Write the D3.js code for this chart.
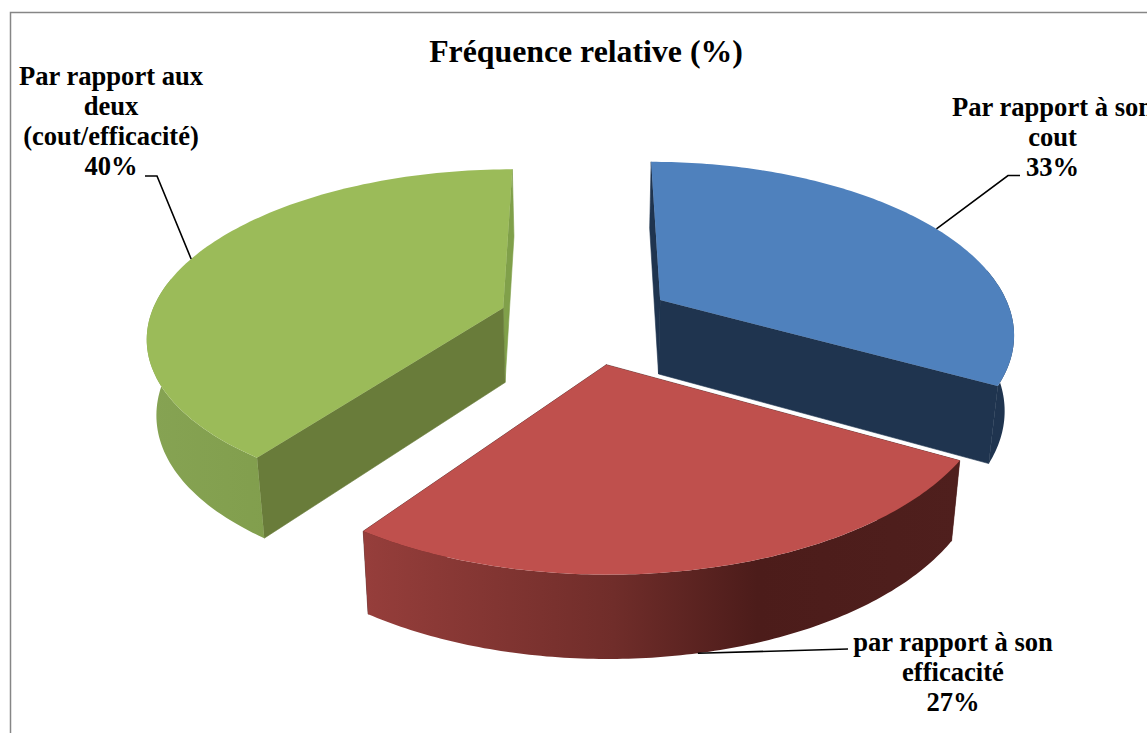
<!DOCTYPE html>
<html lang="fr">
<head>
<meta charset="utf-8">
<title>Fréquence relative (%)</title>
<script src="https://cdn.jsdelivr.net/npm/d3@7/dist/d3.min.js"></script>
<style>
  html, body { margin: 0; padding: 0; background: #fff; overflow: hidden; }
  svg { display: block; }
  text { font-family: "Liberation Serif", "Times New Roman", serif; font-weight: 700; fill: #000; }
</style>
</head>
<body>
<svg id="chart" width="1147" height="733"></svg>
<script>
// Slices, in clockwise order from the top of the pie
const categories = ["Par rapport à son cout", "par rapport à son efficacité", "Par rapport aux deux (cout/efficacité)"];
const values = [33, 27, 40];
const labelLines = [["Par rapport à son", "cout"], ["par rapport à son", "efficacité"], ["Par rapport aux", "deux", "(cout/efficacité)"]];

const topColors = ["#4f81bd", "#bf504d", "#9bbb59"];
const startCutColors = ["#1f344f", "#4f1f1d", "#697c3a"];
const endCutColors = ["#1f344f", "#4f1f1d", "#80a04a"];
const wallStops = [
  [["0", "#1f344f"], ["1", "#1f344f"]],
  [["0", "#963e3b"], ["0.42", "#702d2a"], ["0.66", "#4c1c1a"], ["1", "#4f1f1d"]],
  [["0", "#86a353"], ["0.5", "#7f9c4a"], ["1", "#7c9b40"]]
];

// Label placement: text centre, first baseline, leader elbow and where the leader starts
const labelCenter = [1052.5, 953, 111];
const labelBaseline = [115.5, 650.5, 84.5];
const leaderFrom = [[1020, 175.5], [848, 649], [145, 176]];
const leaderElbow = [[1008, 175.5], [848, 649], [157, 176]];
const leaderFraction = [0.52, 0.5, 0.505];

// Perspective view of the pie plane; each slice carries its own foreshortening
const W = 1147, H = 733;
const centerX = 586, centerY = 321;
const radiusX = [346, 384, 350];
const radiusY = [163, 190, 161];
const perspective = [0.18, 0.095, 0.16];
const apexRadiusX = 347, apexRadiusY = 166.5, apexPerspective = 0.207;
const explosion = 0.255;
const depth = 75, depthGrowth = 0.1, depthConverge = 0.022, converge = 0.8;

const svg = d3.select("#chart");
const defs = svg.append("defs");

const arcs = d3.pie().sort(null).startAngle(0).endAngle(2 * Math.PI)(values);

// Each slice is shifted outward along its bisector, then its rim is projected around that apex
const slices = arcs.map((a, i) => {
  const mid = (a.startAngle + a.endAngle) / 2;
  const ex = explosion * Math.sin(mid), ez = -explosion * Math.cos(mid);
  const s0 = 1 / (1 - apexPerspective * ez);
  const apex = [centerX + apexRadiusX * ex * s0, centerY + apexRadiusY * ez * s0];
  const project = (u, v, lowered) => {
    const sv = 1 / (1 - perspective[i] * v);
    const x = apex[0] + radiusX[i] * u * sv + (apex[0] - centerX) * (sv - 1) * converge;
    const y = apex[1] + radiusY[i] * v * sv;
    if (!lowered) return [x, y];
    return [x - (x - centerX) * depthConverge, y + depth * (1 + depthGrowth * (ez + v))];
  };
  const at = (angle, lowered) => project(Math.sin(angle), -Math.cos(angle), lowered);
  const rim = lowered => d3.range(0, 121).map(k =>
    at(a.startAngle + (a.endAngle - a.startAngle) * k / 120, lowered));
  return { i, a, at, rim, apexTop: project(0, 0, false), apexLow: project(0, 0, true) };
});

const line = d3.line().curve(d3.curveLinear);
const closed = pts => line(pts) + "Z";

function drawSlice(sl) {
  const { i, a, at, rim, apexTop, apexLow } = sl;
  const g = svg.append("g").attr("class", "slice").attr("aria-label", categories[i]);
  const top = rim(false), low = rim(true);

  // Cut faces on both sides of the slice
  g.append("path")
    .attr("d", closed([at(a.endAngle, false), apexTop, apexLow, at(a.endAngle, true)]))
    .attr("fill", endCutColors[i])
    .attr("stroke", endCutColors[i])
    .attr("stroke-width", 0.6);
  g.append("path")
    .attr("d", closed([at(a.startAngle, false), apexTop, apexLow, at(a.startAngle, true)]))
    .attr("fill", startCutColors[i])
    .attr("stroke", startCutColors[i])
    .attr("stroke-width", 0.6);

  // Outer wall, shaded across its width
  const xs = low.concat(top).map(p => p[0]);
  const grad = defs.append("linearGradient")
    .attr("id", "wall" + i)
    .attr("gradientUnits", "userSpaceOnUse")
    .attr("x1", d3.min(xs)).attr("x2", d3.max(xs))
    .attr("y1", 0).attr("y2", 0);
  wallStops[i].forEach(s => grad.append("stop").attr("offset", s[0]).attr("stop-color", s[1]));

  // The wall only shows along the front part of the rim
  const front = d3.range(top.length).filter(k => {
    const ang = a.startAngle + (a.endAngle - a.startAngle) * k / 120;
    return -Math.cos(ang) > -0.2;
  });
  if (front.length) {
    const wall = front.map(k => top[k]).concat(front.slice().reverse().map(k => low[k]));
    g.append("path").attr("d", closed(wall))
      .attr("fill", "url(#wall" + i + ")");
  }

  // Upper face
  g.append("path")
    .attr("d", closed([apexTop].concat(top)))
    .attr("fill", topColors[i]);
}

slices.filter(s => s.i !== 1).forEach(drawSlice);
drawSlice(slices[1]);

// Chart frame: only its top and left edges fall inside the page
svg.append("path")
  .attr("d", line([[10.5, H], [10.5, 12.5], [W, 12.5]]))
  .attr("fill", "none")
  .attr("stroke", "#868686")
  .attr("stroke-width", 1.5);

// Title
svg.append("text")
  .attr("x", 586).attr("y", 62)
  .attr("text-anchor", "middle")
  .attr("font-size", 31.8)
  .text("Fréquence relative (%)");

// Leaders and data labels
slices.forEach(sl => {
  const i = sl.i;
  const a = sl.a;
  const ang = a.startAngle + (a.endAngle - a.startAngle) * leaderFraction[i];
  const anchor = sl.at(ang, i === 1);
  svg.append("path")
    .attr("d", line([leaderFrom[i], leaderElbow[i], anchor]))
    .attr("fill", "none")
    .attr("stroke", "#000")
    .attr("stroke-width", 1.6);

  const lines = labelLines[i].concat(values[i] + "%");
  const t = svg.append("text")
    .attr("text-anchor", "middle")
    .attr("font-size", 26.6);
  lines.forEach((s, k) => {
    t.append("tspan")
      .attr("x", labelCenter[i])
      .attr("y", labelBaseline[i] + k * 30.3)
      .text(s);
  });
});
</script>
</body>
</html>
